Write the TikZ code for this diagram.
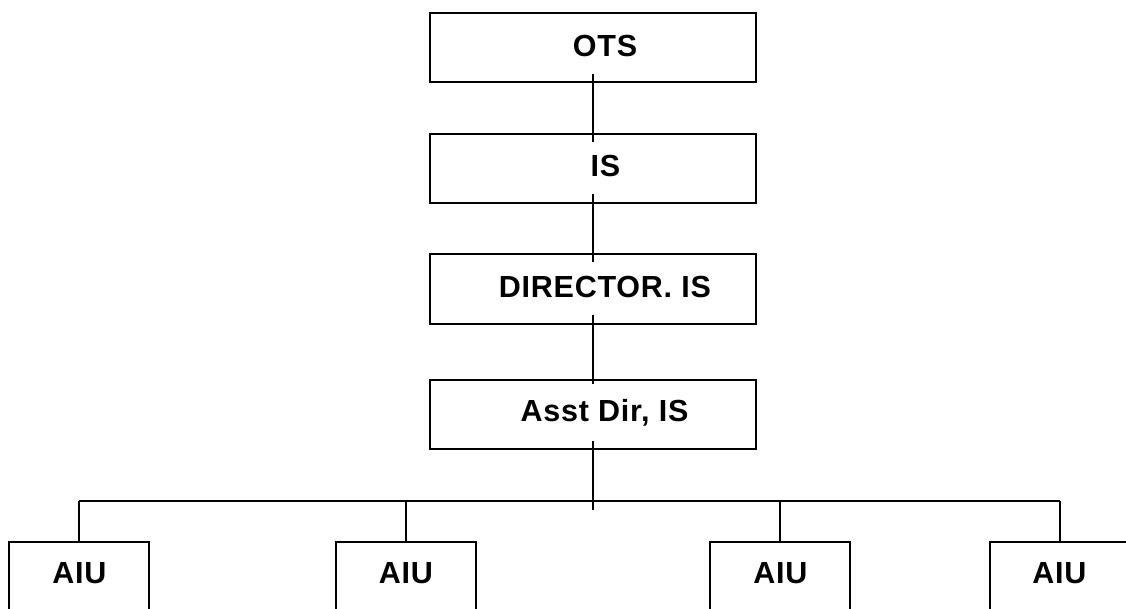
\documentclass[tikz,border=0pt]{standalone}
\usepackage{fontspec}
\setmainfont{Liberation Sans}
\newfontfamily\labfont[LetterSpace=2.5]{Liberation Sans}
\begin{document}
\begin{tikzpicture}[x=1pt,y=-1pt,
  box/.style={draw=black,line width=1.5pt,rectangle,inner sep=0pt,minimum width=326pt,minimum height=69pt},
  leaf/.style={draw=black,line width=1.5pt,rectangle,inner sep=0pt,minimum width=140pt,minimum height=120pt},
  lab/.style={anchor=base,inner sep=0pt,font=\labfont\bfseries\fontsize{30.5}{36}\selectfont},
  conn/.style={draw=black,line width=1.4pt}]
\useasboundingbox (0,0) rectangle (1126,608);
\clip (0,0) rectangle (1126,608);
\fill[white] (0,0) rectangle (1126,608);
% boxes
\node[box] (ots) at (593,47.5) {};
\node[box] (is) at (593,168.5) {};
\node[box,minimum height=70pt] (dir) at (593,289) {};
\node[box] (asst) at (593,414.5) {};
\node[leaf] (a1) at (79,602) {};
\node[leaf] (a2) at (406,602) {};
\node[leaf] (a3) at (780,602) {};
\node[leaf] (a4) at (1060,602) {};
% labels
\node[lab] (tots) at (605,56) {OTS};
\node[lab] (tis) at (605.5,176.5) {IS};
\node[lab] (tdir) at (605,297.5) {DIRECTOR. IS};
\node[lab] (tasst) at (604.5,421.5) {Asst Dir, IS};
\node[lab] (t1) at (79.5,583) {AIU};
\node[lab] (t2) at (406,583) {AIU};
\node[lab] (t3) at (780.5,583) {AIU};
\node[lab] (t4) at (1059.5,583) {AIU};
% connectors
\draw[conn] ([yshift=9pt]ots.south) -- ([yshift=-9pt]is.north);
\draw[conn] ([yshift=10pt]is.south) -- ([yshift=-9pt]dir.north);
\draw[conn] ([yshift=10pt]dir.south) -- ([yshift=-5pt]asst.north);
\coordinate (busend) at (593,510);
\coordinate (busl) at (79,501);
\coordinate (busr) at (1060,501);
\draw[conn] ([yshift=9pt]asst.south) -- (busend);
\draw[conn] (busl) -- (busr);
\draw[conn] (busl) -- (a1.north);
\draw[conn] (a2.north |- busl) -- (a2.north);
\draw[conn] (a3.north |- busl) -- (a3.north);
\draw[conn] (busr) -- (a4.north);
\end{tikzpicture}
\end{document}
